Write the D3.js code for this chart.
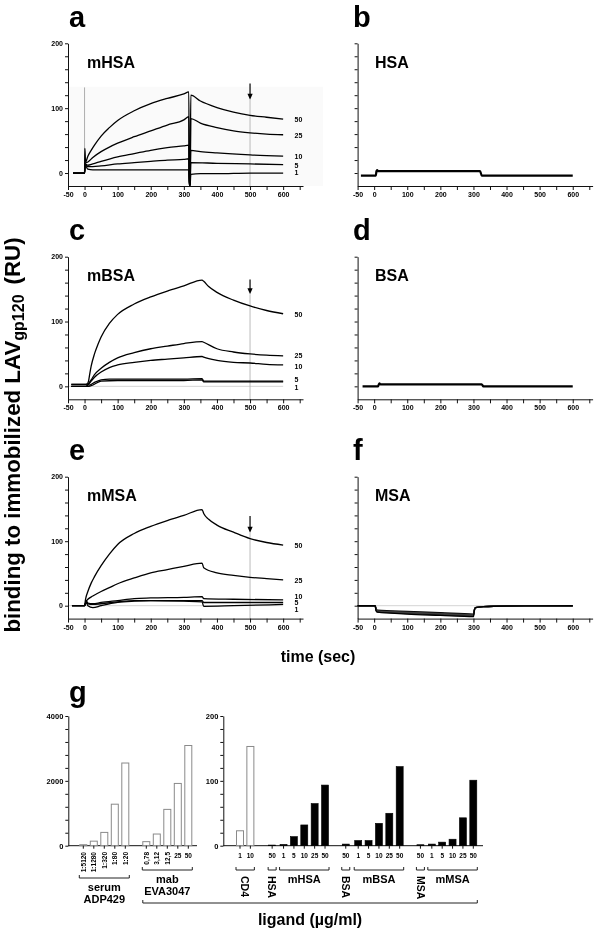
<!DOCTYPE html>
<html><head><meta charset="utf-8">
<script src="https://cdn.jsdelivr.net/npm/d3@7"></script>
<style>body{margin:0;background:#fff}svg{display:block;will-change:transform;-webkit-font-smoothing:antialiased}</style>
</head><body><svg id="c" width="600" height="932"></svg>
<script>
// ---------- DATA ----------
const concLabels = ["50","25","10","5","1"];
const tTicks = [-50,0,50,100,150,200,250,300,350,400,450,500,550,600,650];
const tTickLabels = [-50,0,100,200,300,400,500,600];
const ruTicks = [0,20,40,60,80,100,120,140,160,180,200];
const ruTickLabels = [0,100,200];

// panel a (mHSA)
const a50 = [[-35,0],[0,0],[1,38],[3,17],[10,26],[20,35],[30,43],[50,57],[75,70],[100,81],[150,96],[200,107],[250,115],[300,122],[315,125],[316.5,-19],[319,-19],[321,120],[350,111],[400,101],[450,94],[500,89],[550,86],[600,83]];
const a25 = [[-35,0],[0,0],[2,15],[10,17],[25,24],[50,33],[75,40],[100,46],[150,56],[200,65],[250,74],[300,82],[315,87],[316.5,-19],[319,-19],[321,84],[350,77],[400,70],[450,65],[500,62],[550,60],[600,59]];
const a10 = [[-35,0],[0,0],[2,14],[10,12],[25,14],[50,18],[100,25],[150,30],[200,35],[250,39],[300,42],[315,43],[316.5,-19],[319,-19],[321,35],[350,33],[400,31],[500,28],[600,26]];
const a5  = [[-35,0],[0,0],[2,13],[10,10],[25,10],[50,11],[100,14],[150,16],[200,18],[250,20],[300,21],[315,22],[316.5,-19],[319,-19],[321,16],[400,15],[500,14],[600,13]];
const a1  = [[-35,0],[0,0],[2,12],[10,6],[25,5],[50,5],[100,5],[200,5],[300,5],[315,5],[316.5,-19],[319,-19],[321,-2],[350,-1],[400,-1],[500,0],[600,0]];
const labelYA = [83,58.5,26,12,0];

// panel b (HSA)
const b1 = [[-40,-4],[5,-4],[7,3],[9,4.5],[12,3],[320,3],[325,-4],[600,-4]];

// panel c (mBSA)
const c50 = [[-40,3],[0,3],[8,4],[12,8],[16,20],[20,31],[30,50],[40,64],[50,76],[75,97],[100,111],[150,127],[200,138],[250,147],[300,155],[355,164],[360,162],[375,154],[400,145],[450,133],[500,124],[550,117],[600,112]];
const c25 = [[-40,0],[5,0],[10,3],[20,10],[30,18],[50,28],[75,37],[100,44],[150,52],[200,58],[250,62],[300,66],[355,69],[360,68],[400,58],[450,53],[500,50],[550,48],[600,47]];
const c10 = [[-40,0],[5,0],[10,2],[20,8],[30,14],[50,22],[75,29],[100,33],[150,37],[200,40],[250,42],[300,44],[355,46],[360,45],[400,40],[450,37],[500,36],[550,34],[600,33]];
const c5  = [[-40,3],[8,3],[15,2],[30,6],[50,10],[75,11],[100,11],[200,11],[300,11],[355,12],[360,8],[600,8]];
const c1  = [[-40,0],[10,0],[20,1],[50,8],[100,9],[200,9],[300,9],[355,10],[360,7],[600,7]];
const labelYC = [111,47,31,11,-2];

// panel d (BSA)
const d1 = [[-35,0],[12,0],[14,3],[16,4.5],[19,3],[325,3],[330,0],[600,0]];

// panel e (mMSA)
const e50 = [[-38,0],[0,0],[3,10],[10,22],[20,35],[30,45],[50,62],[75,80],[100,95],[150,112],[200,123],[250,132],[300,140],[355,149],[360,143],[375,134],[400,125],[450,114],[500,104],[550,98],[600,94]];
const e25 = [[-38,0],[0,0],[5,7],[10,10],[25,15],[50,22],[75,28],[100,34],[150,43],[200,51],[250,56],[300,61],[355,66],[360,59],[400,51],[450,47],[500,44],[550,42],[600,40]];
const e10 = [[-38,0],[0,0],[5,8],[10,4],[25,3],[50,5],[100,8],[150,11],[200,12],[300,13],[355,14],[360,11],[450,10],[600,9]];
const e5  = [[-38,0],[0,0],[5,6],[10,3],[25,2],[50,3],[100,6],[150,8],[200,8],[300,8],[355,8],[360,5],[600,5]];
const e1  = [[-38,0],[0,0],[5,5],[10,0],[25,-3],[50,0],[100,5],[150,7],[200,8],[300,7],[355,6],[360,-1],[450,0],[600,2]];
const labelYE = [92.5,39,14,4.6,-6.7];

// panel f (MSA)
const f1 = [[-50,0],[3,0],[6,-5],[10,-7],[50,-8],[100,-9],[200,-11],[300,-13],[302,-8],[306,-3],[330,-1.5],[400,-0.5],[600,0]];
const f2 = [[-50,0],[3,0],[6,-6],[10,-8],[50,-9],[100,-10],[200,-12],[300,-14],[302,-8],[306,-3],[330,-1.5],[400,-0.5],[600,0]];
const f3 = [[-50,0],[3,0],[6,-7],[10,-9],[50,-10],[100,-11],[200,-13],[300,-15],[302,-9],[306,-3],[330,-1.5],[400,-0.5],[600,0]];
const f4 = [[-50,0],[3,0],[6,-7],[10,-9.5],[50,-11],[100,-12],[200,-14],[300,-16],[302,-9],[306,-3],[330,-1.5],[400,-0.5],[600,0]];
const f5 = [[-50,0],[3,0],[6,-8],[10,-10],[50,-11.5],[100,-13],[200,-15],[300,-17],[302,-10],[306,-3],[330,-1.5],[400,-0.5],[600,0]];

// panel g
const serumLabels = ["1:5120","1:1280","1:320","1:80","1:20"];
const serumValues = [30,140,410,1280,2550];
const mabLabels = ["0,78","3,12","12,5","25","50"];
const mabValues = [125,360,1120,1920,3090];
const cd4Labels = ["1","10"];
const cd4Values = [23,153];
const hsaLabels = ["50"];  const hsaValues = [1];
const mhsaLabels = ["1","5","10","25","50"]; const mhsaValues = [2,14,32,65,93.5];
const bsaLabels = ["50"];  const bsaValues = [2.5];
const mbsaLabels = ["1","5","10","25","50"]; const mbsaValues = [8,8,34.5,50,122];
const msaLabels = ["50"];  const msaValues = [1.5];
const mmsaLabels = ["1","5","10","25","50"]; const mmsaValues = [2.5,5.5,10,43,101];
const leftTicks = [0,400,800,1200,1600,2000,2400,2800,3200,3600,4000];
const leftTickLabels = [0,2000,4000];
const rightTicks = [0,20,40,60,80,100,120,140,160,180,200];
const rightTickLabels = [0,100,200];

// ---------- DRAW ----------
const FONT = '"Liberation Sans", Arial, Helvetica, sans-serif';
const svg = d3.select("#c").attr("font-family", FONT).attr("font-weight","bold");

const colX = [[68,303],[357.6,592.6]];
const rowY = [[186,43.3],[399.3,256.7],[618.6,476.7]];

const panels = [
  {letter:"a", title:"mHSA", col:0,row:0, curves:[a50,a25,a10,a5,a1], labelY:labelYA, arrow:[138,113], bg:true, zeroLine:false},
  {letter:"b", title:"HSA",  col:1,row:0, curves:[b1], heavy:true},
  {letter:"c", title:"mBSA", col:0,row:1, curves:[c50,c25,c10,c5,c1], labelY:labelYC, arrow:[165,142], zeroLine:true},
  {letter:"d", title:"BSA",  col:1,row:1, curves:[d1], heavy:true},
  {letter:"e", title:"mMSA", col:0,row:2, curves:[e50,e25,e10,e5,e1], labelY:labelYE, arrow:[139,113], zeroLine:true},
  {letter:"f", title:"MSA",  col:1,row:2, curves:[f1,f2,f3,f4,f5], fband:true, zeroLine:true}
];

function styleAxis(g){
  g.selectAll("path.domain").attr("stroke","#111").attr("stroke-width",1);
  g.selectAll(".tick line").attr("stroke","#111").attr("stroke-width",1);
  g.selectAll("text").attr("font-family",FONT).attr("font-weight","bold").attr("font-size",7).attr("fill","#000");
}

panels.forEach(p=>{
  const x = d3.scaleLinear().domain([-50,660]).range(colX[p.col]);
  const y = d3.scaleLinear().domain([-20,200]).range(rowY[p.row]);
  const g = svg.append("g");
  if(p.bg){
    g.append("rect").attr("x",x(-50)+1).attr("y",y(133)).attr("width",323-x(-50)-1).attr("height",y(-20)-y(133)).attr("fill","#fafafa");
  }
  if(p.zeroLine){
    g.append("line").attr("x1",x(-50)).attr("x2",x(600)).attr("y1",y(0)).attr("y2",y(0)).attr("stroke","#c8c8c8").attr("stroke-width",0.8);
  }
  if(p.arrow){
    const ax = x(500);
    g.append("line").attr("x1",ax).attr("x2",ax).attr("y1",y(p.arrow[1])).attr("y2",y(-20)).attr("stroke","#aaa").attr("stroke-width",0.8);
    g.append("line").attr("x1",ax).attr("x2",ax).attr("y1",y(p.arrow[0])).attr("y2",y(p.arrow[1])-4).attr("stroke","#000").attr("stroke-width",1.2);
    const tip = y(p.arrow[1]);
    g.append("path").attr("d",`M${ax-2.6},${tip-6}L${ax+2.6},${tip-6}L${ax},${tip}Z`).attr("fill","#000");
  }
  if(p.letter==="a"){
    g.append("line").attr("x1",x(0)).attr("x2",x(0)).attr("y1",y(132)).attr("y2",y(0)).attr("stroke","#999").attr("stroke-width",0.8);
  }
  // axes
  const xa = d3.axisBottom(x).tickValues(tTicks).tickSize(4).tickSizeOuter(0).tickPadding(2)
    .tickFormat(d=> tTickLabels.includes(d) ? String(d) : "");
  const xg = g.append("g").attr("transform",`translate(0,${y(-20)})`).call(xa);
  styleAxis(xg);
  const ya = d3.axisLeft(y).tickValues(ruTicks).tickSize(3).tickSizeOuter(0).tickPadding(2)
    .tickFormat(d=> (p.col===0 && ruTickLabels.includes(d)) ? String(d) : "");
  const yg = g.append("g").attr("transform",`translate(${x(-50)},0)`).call(ya);
  styleAxis(yg);
  // curves
  const line = d3.line().x(d=>x(d[0])).y(d=>y(d[1])).curve(d3.curveMonotoneX);
  if(p.fband){
    const top = p.curves[0], bot = p.curves[p.curves.length-1];
    const area = d3.area().x(d=>x(d[0])).y0((d,i)=>y(bot[i][1])).y1(d=>y(d[1])).curve(d3.curveMonotoneX);
    g.append("path").attr("d",area(top)).attr("fill","#5a5a5a");
  }
  const fcolors = ["#000","#333","#444","#333","#000"];
  p.curves.forEach((c,i)=>{
    g.append("path").attr("d",line(c)).attr("fill","none")
      .attr("stroke", p.fband ? fcolors[i] : "#000")
      .attr("stroke-width", p.heavy ? 2.2 : (p.fband ? 1.4 : 1.3))
      .attr("stroke-linejoin","round");
  });
  if(p.labelY){
    p.labelY.forEach((v,i)=>{
      g.append("text").attr("x",294.5).attr("y",y(v)).attr("dy","0.35em")
        .attr("font-size",7).text(concLabels[i]);
    });
  }
  // titles
  g.append("text").attr("x", p.col===0 ? x(-50)+1 : x(-50)-4.5).attr("y", rowY[p.row][1]-16.3)
    .attr("font-size",29).text(p.letter);
  g.append("text").attr("x", p.col===0 ? 87 : 375).attr("y", rowY[p.row][1]+24.3)
    .attr("font-size",16).text(p.title);
});

// axis titles
svg.append("text").attr("x",318).attr("y",661.7).attr("text-anchor","middle").attr("font-size",16).text("time (sec)");
const yl = svg.append("text").attr("transform","translate(19.5,435) rotate(-90)").attr("text-anchor","middle").attr("font-size",22.3);
yl.append("tspan").text("binding to immobilized LAV");
yl.append("tspan").attr("font-size",16).attr("dy",4).text("gp120");
yl.append("tspan").attr("dy",-4).attr("dx",10).text("(RU)");

// ---------- panel g ----------
const gy = 845.7, gtop = 716;
const yL = d3.scaleLinear().domain([0,4000]).range([gy,gtop]);
const yR = d3.scaleLinear().domain([0,200]).range([gy,gtop]);

const leftGroups = [
  {labels:serumLabels, values:serumValues, gap:0, open:true, rotTicks:[true,true,true,true,true], name:["serum","ADP429"], brY:878},
  {labels:mabLabels, values:mabValues, gap:1, open:true, rotTicks:[true,true,true,false,false], name:["mab","EVA3047"], brY:870}
];
const rightGroups = [
  {labels:cd4Labels, values:cd4Values, gap:0, open:true, name:["CD4"], rot:true},
  {labels:hsaLabels, values:hsaValues, gap:1.1, name:["HSA"], rot:true},
  {labels:mhsaLabels, values:mhsaValues, gap:0.1, name:["mHSA"]},
  {labels:bsaLabels, values:bsaValues, gap:1.0, name:["BSA"], rot:true},
  {labels:mbsaLabels, values:mbsaValues, gap:0.2, name:["mBSA"]},
  {labels:msaLabels, values:msaValues, gap:1.0, name:["MSA"], rot:true},
  {labels:mmsaLabels, values:mmsaValues, gap:0.1, name:["mMSA"]}
];
function assignSlots(groups){
  let s = -1;
  groups.forEach(gr=>{
    s = s + gr.gap;
    gr.slots = gr.values.map(()=>{ s += 1; return s; });
  });
  return s;
}
const lastL = assignSlots(leftGroups);
const lastR = assignSlots(rightGroups);
const xL = d3.scaleLinear().domain([0,lastL]).range([83.3,188.3]);
const xR = d3.scaleLinear().domain([0,lastR]).range([240,473.3]);

const gg = svg.append("g");
gg.append("text").attr("x",69).attr("y",702).attr("font-size",29).text("g");

function drawAxisG(yScale, ax, ticks, tickLabels, x2){
  const a = d3.axisLeft(yScale).tickValues(ticks).tickSize(3).tickSizeOuter(0).tickPadding(2)
    .tickFormat(d=> tickLabels.includes(d) ? String(d) : "");
  const g = gg.append("g").attr("transform",`translate(${ax},0)`).call(a);
  styleAxis(g);
  g.selectAll("text").attr("font-size",7.5);
  gg.append("line").attr("x1",ax).attr("x2",x2).attr("y1",gy).attr("y2",gy).attr("stroke","#111");
}
drawAxisG(yL, 68.3, leftTicks, leftTickLabels, 197);
drawAxisG(yR, 223.3, rightTicks, rightTickLabels, 483);

const bw = 7;
function drawGroups(groups, xs, ys){
  groups.forEach(gr=>{
    gr.values.forEach((v,i)=>{
      const cx = xs(gr.slots[i]);
      gg.append("rect").attr("x",cx-bw/2).attr("y",ys(v)).attr("width",bw).attr("height",Math.max(0.5,gy-ys(v)))
        .attr("fill", gr.open ? "#fff" : "#000")
        .attr("stroke", gr.open ? "#8a8a8a" : "#000").attr("stroke-width", gr.open?1:0.6);
      gg.append("line").attr("x1",cx).attr("x2",cx).attr("y1",gy).attr("y2",gy+3).attr("stroke","#111");
      const rot = gr.rotTicks ? gr.rotTicks[i] : false;
      if(rot){
        gg.append("text").attr("transform",`translate(${cx+2.3},852) rotate(-90)`).attr("text-anchor","end")
          .attr("font-size",6.5).text(gr.labels[i]);
      } else {
        gg.append("text").attr("x",cx).attr("y",858).attr("text-anchor","middle").attr("font-size",6.5).text(gr.labels[i]);
      }
    });
    const x1 = xs(gr.slots[0]) - 4, x2 = xs(gr.slots[gr.slots.length-1]) + 4;
    const by = gr.brY || 870;
    gg.append("path").attr("d",`M${x1},${by-3}L${x1},${by}L${x2},${by}L${x2},${by-3}`)
      .attr("fill","none").attr("stroke","#222").attr("stroke-width",1);
    const cx = (x1+x2)/2;
    if(gr.rot){
      gg.append("text").attr("transform",`translate(${cx-3.7},876) rotate(90)`).attr("font-size",10.5).text(gr.name[0]);
    } else if(gr.name.length===2){
      gg.append("text").attr("x",cx).attr("y",by+12.5).attr("text-anchor","middle").attr("font-size",11).text(gr.name[0]);
      gg.append("text").attr("x",cx).attr("y",by+24.5).attr("text-anchor","middle").attr("font-size",11).text(gr.name[1]);
    } else {
      gg.append("text").attr("x",cx).attr("y",by+13.3).attr("text-anchor","middle").attr("font-size",11).text(gr.name[0]);
    }
  });
}
drawGroups(leftGroups, xL, yL);
drawGroups(rightGroups, xR, yR);

// big ligand bracket
const bx1 = xL(leftGroups[1].slots[0]) - 3.5;
const bx2 = xR(lastR) + 4;
gg.append("path").attr("d",`M${bx1},900L${bx1},903L${bx2},903L${bx2},900`).attr("fill","none").attr("stroke","#222").attr("stroke-width",1);
gg.append("text").attr("x",(bx1+bx2)/2).attr("y",925).attr("text-anchor","middle").attr("font-size",16).text("ligand (µg/ml)");
</script>
</body></html>
